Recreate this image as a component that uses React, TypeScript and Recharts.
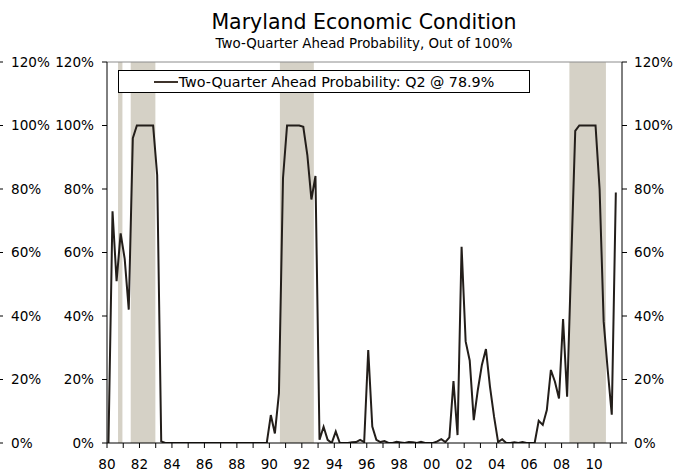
import React from 'react';
import { ComposedChart, Line, XAxis, YAxis, ReferenceArea, ReferenceLine, Legend } from 'recharts';

// Quarterly two-quarter-ahead recession probability, 1980Q1 .. 2011Q2 (percent)
const startYear = 1980;
const midQuarterOffset = 0.09;
const probability: number[] = [
  // 1980-1983
  0, 73, 51, 66, 58, 42, 96, 100, 100, 100, 100, 100, 84.4, 0.5,
  // 1983Q3-1989Q4
  0, 0, 0, 0, 0, 0, 0, 0, 0, 0, 0, 0, 0, 0, 0, 0, 0, 0, 0, 0, 0, 0, 0, 0, 0, 0,
  // 1990-1994Q2
  8.8, 3, 15.6, 83.4, 100, 100, 100, 100, 99.6, 90.7, 76.7, 84.1, 1, 5.1, 1, 0, 3.6, 0,
  // 1994Q3-2000Q1
  0, 0, 0.2, 0.3, 1, 0.3, 29.3, 5.2, 1, 0.3, 0.6, 0, 0, 0.4, 0.2, 0, 0.3, 0.2, 0, 0.4, 0, 0, 0,
  // 2000Q2-2004Q2
  0.5, 1.2, 0.3, 1.8, 19.5, 2.5, 61.8, 32, 26, 7.2, 16.7, 24.6, 29.6, 17.7, 8.3, 0.3, 1.2,
  // 2004Q3-2006Q2
  0, 0, 0.2, 0, 0.3, 0, 0, 0,
  // 2006Q3-2011Q2
  7, 5.7, 10.4, 23, 19.3, 14, 39, 14.6, 57, 98.3, 100, 100, 100, 100, 100, 80, 38.3, 23, 8.9, 78.9,
];

const recessionStart = [1980.68, 1981.46, 1990.65, 2008.48];
const recessionEnd = [1980.95, 1982.98, 1992.74, 2010.73];

const yearTicks = [
  1980, 1981, 1982, 1983, 1984, 1985, 1986, 1987, 1988, 1989, 1990, 1991, 1992, 1993, 1994, 1995,
  1996, 1997, 1998, 1999, 2000, 2001, 2002, 2003, 2004, 2005, 2006, 2007, 2008, 2009, 2010, 2011,
];
const percentTicks = [0, 20, 40, 60, 80, 100, 120];
const yDomain: [number, number] = [0, 120];
const xDomain: [number, number] = [1980, 2011.72];

const seriesName = 'Two-Quarter Ahead Probability: Q2 @ 78.9%';
const titleText = 'Maryland Economic Condition';
const subtitleText = 'Two-Quarter Ahead Probability, Out of 100%';

const data = probability.map((v, i) => ({ t: startYear + i / 4 + midQuarterOffset, v }));

const FONT = "'DejaVu Sans', Verdana, sans-serif";
const TICK_SIZE = 13.6;
const LINE_COLOR = '#231e1a';
const BAND_COLOR = '#d5d1c6';

const pct = (v: number) => `${v}%`;
const yearLabel = (y: number) => (y % 2 === 0 ? String(y).slice(2) : '');

const OuterTick = (props: any) => {
  const { y, payload } = props;
  return (
    <g>
      <line x1={0} x2={3} y1={y} y2={y} stroke="#000" strokeWidth={1} />
      <text x={11} y={y} dy="0.355em" textAnchor="start" fill="#000" fontSize={TICK_SIZE} fontFamily={FONT}>
        {pct(payload.value)}
      </text>
    </g>
  );
};

const LegendBox = (props: any) => {
  const { payload } = props;
  return (
    <div
      style={{
        width: '100%',
        height: '100%',
        boxSizing: 'border-box',
        border: '1px solid #000',
        background: '#fff',
        display: 'flex',
        alignItems: 'center',
        justifyContent: 'center',
        fontFamily: FONT,
        fontSize: 14.3,
        color: '#000',
      }}
    >
      {(payload || []).map((entry: any, idx: number) => (
        <div key={idx} style={{ display: 'flex', alignItems: 'center' }}>
          <svg width={24} height={4} style={{ marginRight: 1 }}>
            <line x1={0} x2={24} y1={2} y2={2} stroke="#3d332b" strokeWidth={2} />
          </svg>
          <span>{entry.value}</span>
        </div>
      ))}
    </div>
  );
};

export default function App() {
  return (
    <div style={{ position: 'absolute', left: 0, top: 0, width: 676, height: 473, background: '#fff', fontFamily: FONT }}>
      <div style={{ position: 'absolute', left: 0, width: 728, top: 10, textAlign: 'center', fontSize: 20.5, lineHeight: '24px', color: '#000', whiteSpace: 'nowrap' }}>
        {titleText}
      </div>
      <div style={{ position: 'absolute', left: 0, width: 728, top: 35.5, textAlign: 'center', fontSize: 13.4, lineHeight: '16px', color: '#000', whiteSpace: 'nowrap' }}>
        {subtitleText}
      </div>
      <div style={{ position: 'absolute', left: 0, top: 0 }}>
        <ComposedChart width={676} height={473} data={data} margin={{ top: 62, right: 0, bottom: 0, left: 0 }}>
          <XAxis
            dataKey="t"
            type="number"
            domain={xDomain}
            ticks={yearTicks}
            interval={0}
            tickFormatter={yearLabel}
            height={30}
            tickSize={5}
            tickMargin={11}
            axisLine={{ stroke: '#000' }}
            tickLine={{ stroke: '#000' }}
            tick={{ fill: '#000', fontSize: TICK_SIZE, fontFamily: FONT }}
            allowDataOverflow
          />
          <YAxis
            yAxisId="left"
            orientation="left"
            domain={yDomain}
            ticks={percentTicks}
            interval={0}
            width={52}
            tickSize={5}
            tickMargin={8}
            tickFormatter={pct}
            axisLine={{ stroke: '#000' }}
            tickLine={{ stroke: '#000' }}
            tick={{ fill: '#000', fontSize: TICK_SIZE, fontFamily: FONT }}
            allowDataOverflow
          />
          <YAxis
            yAxisId="outer"
            orientation="left"
            domain={yDomain}
            ticks={percentTicks}
            interval={0}
            width={55}
            axisLine={false}
            tickLine={false}
            tick={<OuterTick />}
            allowDataOverflow
          />
          <YAxis
            yAxisId="right"
            orientation="right"
            domain={yDomain}
            ticks={percentTicks}
            interval={0}
            width={54}
            tickSize={5}
            tickMargin={7}
            tickFormatter={pct}
            axisLine={{ stroke: '#000' }}
            tickLine={{ stroke: '#000' }}
            tick={{ fill: '#000', fontSize: TICK_SIZE, fontFamily: FONT }}
            allowDataOverflow
          />
          {recessionStart.map((s, i) => (
            <ReferenceArea
              key={i}
              yAxisId="left"
              x1={s}
              x2={recessionEnd[i]}
              y1={0}
              y2={120}
              fill={BAND_COLOR}
              fillOpacity={1}
              stroke="none"
            />
          ))}
          <ReferenceLine yAxisId="left" y={120} stroke="#8c8c8c" strokeWidth={1} />
          <Legend
            layout="horizontal"
            verticalAlign="middle"
            align="center"
            content={<LegendBox />}
            wrapperStyle={{ top: 70, left: 118, width: 412, height: 23, bottom: 'auto', right: 'auto' }}
          />
          <Line
            yAxisId="left"
            type="linear"
            dataKey="v"
            name={seriesName}
            stroke={LINE_COLOR}
            strokeWidth={2}
            dot={false}
            activeDot={false}
            isAnimationActive={false}
          />
        </ComposedChart>
      </div>
    </div>
  );
}
